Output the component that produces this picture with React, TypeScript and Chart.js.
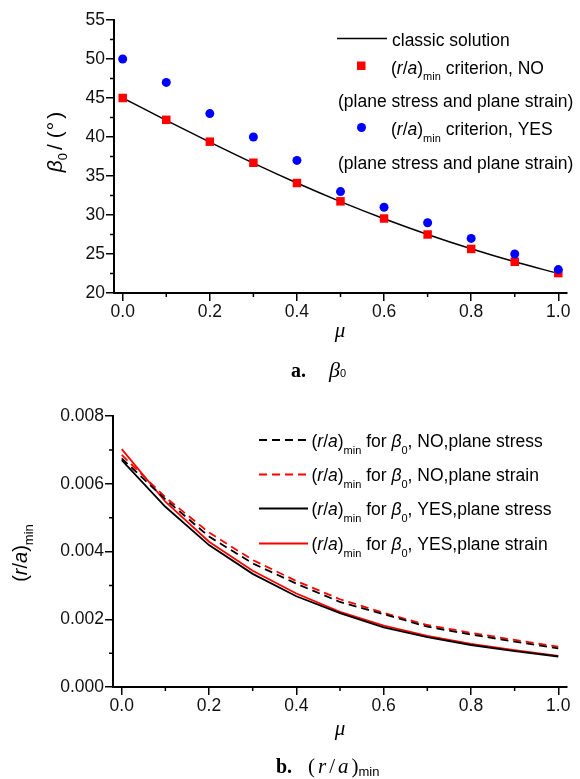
import React, { useEffect, useRef } from 'react';
import { Chart, registerables } from 'chart.js';

Chart.register(...registerables);

// ---------- data ----------
const muValues = [0, 0.1, 0.2, 0.3, 0.4, 0.5, 0.6, 0.7, 0.8, 0.9, 1.0];
const classicBeta = [45, 42.14, 39.35, 36.65, 34.1, 31.72, 29.52, 27.51, 25.67, 24.0, 22.5];
const noCriterionBeta = [45, 42.2, 39.4, 36.7, 34.1, 31.75, 29.55, 27.5, 25.65, 24.0, 22.55];
const yesCriterionBeta = [50, 47, 43, 40, 37, 33, 31, 29, 27, 25, 23];

const raNoStress = [0.00675, 0.00554, 0.00444, 0.00365, 0.00305, 0.00251, 0.00215, 0.00178, 0.00155, 0.00134, 0.00114];
const raNoStrain = [0.00685, 0.0056, 0.00456, 0.00375, 0.00313, 0.00259, 0.00219, 0.00183, 0.0016, 0.00139, 0.00119];
const raYesStress = [0.0067, 0.00532, 0.00419, 0.00334, 0.00268, 0.00218, 0.00176, 0.00147, 0.00124, 0.00106, 0.0009];
const raYesStrain = [0.00702, 0.00547, 0.00429, 0.00343, 0.00276, 0.00222, 0.00181, 0.00151, 0.00127, 0.00109, 0.00092];

const muMajorTicks = [0, 0.2, 0.4, 0.6, 0.8, 1.0];
const muMinorTicks = [0.1, 0.3, 0.5, 0.7, 0.9];
const betaMajorTicks = [20, 25, 30, 35, 40, 45, 50, 55];
const betaMinorTicks = [22.5, 27.5, 32.5, 37.5, 42.5, 47.5, 52.5];
const raMajorTicks = [0, 0.002, 0.004, 0.006, 0.008];
const raMinorTicks = [0.001, 0.003, 0.005, 0.007];

const topLegendLabels = ['classic solution', ' criterion, NO', ' criterion, YES'];
const topLegendNote = '(plane stress and plane strain)';
const bottomLegendLabels = [', NO,plane stress', ', NO,plane strain', ', YES,plane stress', ', YES,plane strain'];

// ---------- helpers ----------
const SANS = '"Liberation Sans", Arial, sans-serif';
const SERIF = '"Liberation Serif", "Times New Roman", serif';
const RED = '#ff0000';
const BLUE = '#0000ff';
const FS = 17.5;

type Seg = { t: string; i?: boolean; b?: boolean; sub?: boolean; serif?: boolean; size?: number; dy?: number; gap?: number };

function segFont(s: Seg, base: number) {
  const size = s.size ?? (s.sub ? 11 : base);
  return `${s.i ? 'italic ' : ''}${s.b ? 'bold ' : ''}${size}px ${s.serif ? SERIF : SANS}`;
}
function richWidth(ctx: CanvasRenderingContext2D, segs: Seg[], base: number) {
  let w = 0;
  for (const s of segs) {
    ctx.font = segFont(s, base);
    w += ctx.measureText(s.t).width + (s.gap ?? 0);
  }
  return w;
}
function drawRich(ctx: CanvasRenderingContext2D, segs: Seg[], x: number, y: number, base: number, subDy = 6) {
  let cx = x;
  ctx.textAlign = 'left';
  ctx.textBaseline = 'alphabetic';
  for (const s of segs) {
    ctx.font = segFont(s, base);
    ctx.fillText(s.t, cx, y + (s.dy ?? (s.sub ? subDy : 0)));
    cx += ctx.measureText(s.t).width + (s.gap ?? 0);
  }
}
function drawRotated(ctx: CanvasRenderingContext2D, segs: Seg[], bx: number, cy: number, base: number, subDy = 6) {
  const w = richWidth(ctx, segs, base);
  ctx.save();
  ctx.translate(bx, cy);
  ctx.rotate(-Math.PI / 2);
  drawRich(ctx, segs, -w / 2, 0, base, subDy);
  ctx.restore();
}
const raSegs: Seg[] = [{ t: '(' }, { t: 'r', i: true }, { t: '/' }, { t: 'a', i: true }, { t: ')' }, { t: 'min', sub: true }];

function drawMinor(chart: any, xMinor: number[], yMinor: number[], len: number) {
  const { ctx, chartArea, scales } = chart;
  ctx.save();
  ctx.strokeStyle = '#000';
  ctx.lineWidth = 1.5;
  ctx.beginPath();
  for (const v of xMinor) {
    const px = scales.x.getPixelForValue(v);
    ctx.moveTo(px, chartArea.bottom);
    ctx.lineTo(px, chartArea.bottom + len);
  }
  for (const v of yMinor) {
    const py = scales.y.getPixelForValue(v);
    ctx.moveTo(chartArea.left, py);
    ctx.lineTo(chartArea.left - len, py);
  }
  ctx.stroke();
  ctx.restore();
}

function axisCfg(min: number, max: number, ticks: number[], digits: number, size: { w?: number; h?: number }) {
  return {
    type: 'linear',
    min,
    max,
    afterBuildTicks: (s: any) => {
      s.ticks = ticks.map((v) => ({ value: v }));
    },
    afterFit: (s: any) => {
      if (size.w !== undefined) s.width = size.w;
      if (size.h !== undefined) s.height = size.h;
    },
    grid: { drawOnChartArea: false, drawTicks: true, tickLength: 8, color: '#000', lineWidth: 1.5 },
    border: { display: true, color: '#000', width: 2 },
    ticks: {
      autoSkip: false,
      maxRotation: 0,
      padding: 1,
      color: '#111',
      font: { family: SANS, size: FS },
      callback: (v: any) => Number(v).toFixed(digits),
    },
  };
}

function pts(ys: number[]) {
  return muValues.map((x, i) => ({ x, y: ys[i] }));
}

// ---------- charts ----------
function topConfig(): any {
  const decor = {
    id: 'topDecor',
    afterDraw(chart: any) {
      const ctx: CanvasRenderingContext2D = chart.ctx;
      drawMinor(chart, muMinorTicks, betaMinorTicks, 4);
      ctx.save();
      ctx.fillStyle = '#000';
      // legend
      ctx.strokeStyle = '#000';
      ctx.lineWidth = 1.5;
      ctx.beginPath();
      ctx.moveTo(337, 38.5);
      ctx.lineTo(387, 38.5);
      ctx.stroke();
      drawRich(ctx, [{ t: topLegendLabels[0] }], 392, 45.5, FS);
      ctx.fillStyle = RED;
      ctx.fillRect(357, 61.5, 8.5, 8.5);
      ctx.fillStyle = '#000';
      drawRich(ctx, [...raSegs, { t: topLegendLabels[1] }], 391, 73.5, FS, 6.5);
      drawRich(ctx, [{ t: topLegendNote }], 338, 107, FS);
      ctx.fillStyle = BLUE;
      ctx.beginPath();
      ctx.arc(361.5, 127.5, 4.5, 0, Math.PI * 2);
      ctx.fill();
      ctx.fillStyle = '#000';
      drawRich(ctx, [...raSegs, { t: topLegendLabels[2] }], 391, 135, FS, 6.5);
      drawRich(ctx, [{ t: topLegendNote }], 338, 168.5, FS);
      // y title
      drawRotated(ctx, [{ t: '\u03b2', i: true, size: 21 }, { t: '0', sub: true, size: 13, dy: 5, gap: 3 }, { t: '/ (', gap: 1 }, { t: '\u00b0', gap: 3 }, { t: ')' }], 62, 142, 21);
      // x title
      ctx.font = `italic 21px ${SERIF}`;
      ctx.textAlign = 'center';
      ctx.fillText('\u03bc', 340, 337);
      // caption
      drawRich(ctx, [{ t: 'a.', b: true, serif: true, size: 20 }], 291, 376.5, 20);
      drawRich(ctx, [{ t: '\u03b2', i: true, serif: true, size: 22 }, { t: '0', sub: true, size: 11, dy: 0.5 }], 329, 376.5, 22);
      ctx.restore();
    },
  };
  return {
    type: 'scatter',
    data: {
      datasets: [
        { label: 'yes', data: pts(yesCriterionBeta), showLine: false, pointStyle: 'circle', pointRadius: 4.5, backgroundColor: BLUE, borderColor: BLUE, borderWidth: 0, order: 0 },
        { label: 'no', data: pts(noCriterionBeta), showLine: false, pointStyle: 'rect', pointRadius: 6, backgroundColor: RED, borderColor: RED, borderWidth: 0, order: 1 },
        { label: 'classic', data: pts(classicBeta), showLine: true, pointRadius: 0, borderColor: '#000', borderWidth: 1.5, cubicInterpolationMode: 'monotone', order: 2 },
      ],
    },
    options: {
      animation: false,
      responsive: false,
      maintainAspectRatio: false,
      events: [],
      layout: { padding: { top: 20, right: 13, left: 0, bottom: 0 } },
      plugins: { legend: { display: false }, tooltip: { enabled: false } },
      scales: {
        x: axisCfg(-0.02, 1.02, muMajorTicks, 1, { h: 97 }),
        y: axisCfg(20, 55, betaMajorTicks, 0, { w: 114 }),
      },
    },
    plugins: [decor],
  };
}

function bottomConfig(): any {
  const series = [
    { data: raNoStress, color: '#000', dash: [8, 5] },
    { data: raNoStrain, color: RED, dash: [8, 5] },
    { data: raYesStress, color: '#000', dash: [] as number[] },
    { data: raYesStrain, color: RED, dash: [] as number[] },
  ];
  const decor = {
    id: 'botDecor',
    afterDraw(chart: any) {
      const ctx: CanvasRenderingContext2D = chart.ctx;
      drawMinor(chart, muMinorTicks, raMinorTicks, 4);
      ctx.save();
      const lineYs = [50, 84.5, 118.5, 153.5];
      series.forEach((s, i) => {
        ctx.strokeStyle = s.color;
        ctx.lineWidth = 2;
        ctx.setLineDash(s.dash);
        ctx.beginPath();
        ctx.moveTo(259, lineYs[i]);
        ctx.lineTo(308, lineYs[i]);
        ctx.stroke();
        ctx.setLineDash([]);
        ctx.fillStyle = '#000';
        drawRich(
          ctx,
          [...raSegs, { t: ' for ' }, { t: '\u03b2', i: true }, { t: '0', sub: true }, { t: bottomLegendLabels[i] }],
          311.5,
          lineYs[i] + 6.5,
          FS,
          7
        );
      });
      ctx.fillStyle = '#000';
      // y title
      drawRotated(ctx, [{ t: '(' }, { t: 'r', i: true }, { t: '/' }, { t: 'a', i: true }, { t: ')' }, { t: 'min', sub: true, size: 13, dy: 6 }], 27, 163, 20);
      // x title
      ctx.font = `italic 21px ${SERIF}`;
      ctx.textAlign = 'center';
      ctx.fillText('\u03bc', 340, 345);
      // caption
      drawRich(ctx, [{ t: 'b.', b: true, serif: true, size: 20 }], 276, 383, 20);
      drawRich(
        ctx,
        [
          { t: '(', serif: true, size: 21, gap: 3 },
          { t: 'r', i: true, serif: true, size: 21, gap: 3 },
          { t: '/', serif: true, size: 21, gap: 3 },
          { t: 'a', i: true, serif: true, size: 21, gap: 3 },
          { t: ')', serif: true, size: 21 },
          { t: 'min', sub: true, size: 13, dy: 3 },
        ],
        308,
        383,
        21
      );
      ctx.restore();
    },
  };
  return {
    type: 'scatter',
    data: {
      datasets: series.map((s, i) => ({
        label: 's' + i,
        data: pts(s.data),
        showLine: true,
        pointRadius: 0,
        borderColor: s.color,
        backgroundColor: s.color,
        borderWidth: 1.8,
        borderDash: s.dash,
        tension: 0,
      })),
    },
    options: {
      animation: false,
      responsive: false,
      maintainAspectRatio: false,
      events: [],
      layout: { padding: { top: 26, right: 13, left: 0, bottom: 0 } },
      plugins: { legend: { display: false }, tooltip: { enabled: false } },
      scales: {
        x: axisCfg(-0.02, 1.02, muMajorTicks, 1, { h: 92 }),
        y: axisCfg(0, 0.008, raMajorTicks, 3, { w: 113 }),
      },
    },
    plugins: [decor],
  };
}

export default function App() {
  const topRef = useRef<HTMLCanvasElement>(null);
  const botRef = useRef<HTMLCanvasElement>(null);
  useEffect(() => {
    const c1 = new Chart(topRef.current as HTMLCanvasElement, topConfig());
    const c2 = new Chart(botRef.current as HTMLCanvasElement, bottomConfig());
    return () => {
      c1.destroy();
      c2.destroy();
    };
  }, []);
  return (
    <div style={{ position: 'absolute', left: 0, top: 0, width: 580, height: 779, background: '#fff' }}>
      <canvas ref={topRef} width={580} height={390} style={{ position: 'absolute', left: 0, top: 0, width: 580, height: 390, display: 'block' }} />
      <canvas ref={botRef} width={580} height={389} style={{ position: 'absolute', left: 0, top: 390, width: 580, height: 389, display: 'block' }} />
    </div>
  );
}
